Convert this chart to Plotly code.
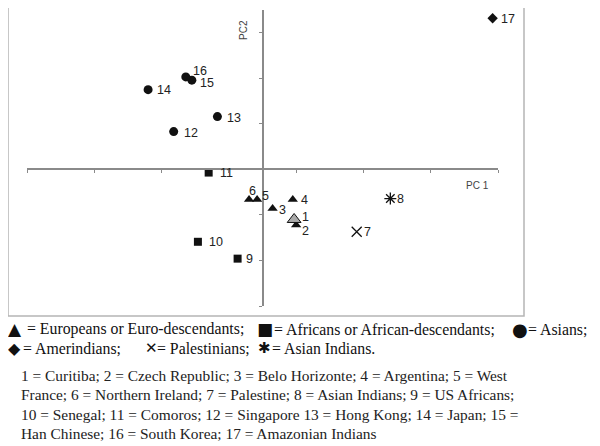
import plotly.graph_objects as go

# ---- data (PC scores in chart units) ----
labels = ["1", "2", "3", "4", "5", "6", "7", "8", "9", "10", "11", "12", "13", "14", "15", "16", "17"]
pc1 = [0.47, 0.50, 0.15, 0.45, -0.08, -0.20, 1.40, 1.90, -0.37, -0.96, -0.80, -1.32, -0.67, -1.70, -1.05, -1.14, 3.42]
pc2 = [-1.10, -1.22, -0.86, -0.66, -0.66, -0.66, -1.37, -0.64, -1.96, -1.59, -0.07, 0.83, 1.16, 1.75, 1.96, 2.03, 3.32]
groups = ["Curitiba", "Euro", "Euro", "Euro", "Euro", "Euro", "Palestinians", "AsianIndians",
          "Africans", "Africans", "Africans", "Asians", "Asians", "Asians", "Asians", "Asians", "Amerindians"]

legend_line1 = [("▲", 8, 17), ("= Europeans or Euro-descendants;", 27, None),
                ("■", 257, 17), ("= Africans or African-descendants;", 274, None),
                ("●", 512, 18), ("= Asians;", 528, None)]
legend_line2 = [("◆", 8, 16), ("= Amerindians;", 23, None),
                ("✕", 145, 15), ("= Palestinians;", 157, None),
                ("✱", 258, 15), ("= Asian Indians.", 272, None)]
caption_lines = [
    "1 = Curitiba; 2 = Czech Republic; 3 = Belo Horizonte; 4 = Argentina; 5 = West",
    "France; 6 = Northern Ireland; 7 = Palestine; 8 = Asian Indians; 9 = US Africans;",
    "10 = Senegal; 11 = Comoros; 12 = Singapore 13 = Hong Kong; 14 = Japan; 15 =",
    "Han Chinese; 16 = South Korea; 17 = Amazonian Indians",
]

# ---- styles ----
styles = {
    "Euro": dict(symbol="triangle-up", size=9, color="#111111", line=dict(width=0)),
    "Curitiba": dict(symbol="triangle-up", size=12, color="#aaaaaa", line=dict(width=1, color="#111111")),
    "Africans": dict(symbol="square", size=8, color="#111111", line=dict(width=0)),
    "Asians": dict(symbol="circle", size=9, color="#111111", line=dict(width=0)),
    "Amerindians": dict(symbol="diamond", size=8, color="#111111", line=dict(width=0)),
    "Palestinians": dict(symbol="x-thin-open", size=10, color="#111111", line=dict(width=1.3, color="#111111")),
    "AsianIndians": dict(symbol="asterisk-open", size=10, color="#111111", line=dict(width=1.3, color="#111111")),
}
# label offsets (px) from marker centre: (dx, dy downwards)
label_offsets = {"1": (8, -2), "2": (6, 6), "3": (6, 1.5), "4": (8, 1), "5": (5, -3), "6": (0, -8),
                 "7": (7, 0), "8": (7, 0), "9": (8, 0), "10": (11, 0), "11": (11, 0), "12": (10, 1),
                 "13": (10, 1), "14": (9, 0), "15": (8, 2.5), "16": (7.5, -5.5), "17": (8, 0.5)}

order = ["Euro", "Curitiba", "Africans", "Asians", "Amerindians", "Palestinians", "AsianIndians"]

fig = go.Figure()
for g in order:
    idx = [i for i, gg in enumerate(groups) if gg == g]
    fig.add_trace(go.Scatter(
        x=[pc1[i] for i in idx], y=[pc2[i] for i in idx],
        mode="markers", marker=styles[g],
        showlegend=False, cliponaxis=False, hoverinfo="skip",
    ))

for i, lab in enumerate(labels):
    dx, dy = label_offsets[lab]
    fig.add_annotation(x=pc1[i], y=pc2[i], xref="x", yref="y", text=lab, showarrow=False,
                       xanchor="left", yanchor="middle", xshift=dx - 2, yshift=-dy,
                       font=dict(family="Liberation Sans, Arial", size=12.5, color="#222222"))

# page has an 8px body margin: compensate so the figure sits at the page origin
W, H = 592, 438
fig.update_layout(
    width=W, height=H,
    margin=dict(l=27 - 8, r=W - (498 - 8), t=10 - 8, b=H - (306 - 8), autoexpand=False),
    paper_bgcolor="white", plot_bgcolor="white",
    xaxis=dict(range=[-3.5, 3.5], showgrid=False, zeroline=False, showline=True,
               linecolor="#8a8a8a", linewidth=1.5, anchor="free", position=3 / 6.5,
               ticks="outside", ticklen=3, tickwidth=1, tickcolor="#8a8a8a",
               tick0=-3.5, dtick=1, showticklabels=False),
    yaxis=dict(range=[-3, 3.5], showgrid=False, zeroline=False, showline=True,
               linecolor="#8a8a8a", linewidth=1.5, anchor="free", position=0.5,
               ticks="outside", ticklen=3, tickwidth=1, tickcolor="#8a8a8a",
               tick0=-3, dtick=1, showticklabels=False),
)

pw, ph = 471.0, 296.0


def px(xp):
    return (xp - 27) / pw


def py(yp):
    return (306 - yp) / ph


# outer frame
fig.add_shape(type="rect", xref="paper", yref="paper",
              x0=px(8), x1=px(524), y0=py(316), y1=py(5),
              line=dict(color="#b5b5b5", width=1.5), fillcolor="rgba(0,0,0,0)", layer="below")

# axis titles
fig.add_annotation(x=px(244), y=py(30), xref="paper", yref="paper",
                   xanchor="center", yanchor="middle",
                   text="PC2", textangle=-90, showarrow=False,
                   font=dict(family="Liberation Sans, Arial", size=10, color="#444444"))
fig.add_annotation(x=px(477), y=py(186), xref="paper", yref="paper",
                   xanchor="center", yanchor="middle",
                   text="PC 1", showarrow=False,
                   font=dict(family="Liberation Sans, Arial", size=10, color="#444444"))

# legend text
for items, ypx in [(legend_line1, 329), (legend_line2, 348)]:
    for txt, xpx, sym_size in items:
        if sym_size:
            font = dict(family="DejaVu Sans", size=sym_size, color="#111111")
        else:
            font = dict(family="Liberation Serif, Times New Roman", size=15.8, color="#111111")
        fig.add_annotation(x=px(xpx), y=py(ypx), xref="paper", yref="paper",
                           xanchor="left", yanchor="middle", text=txt, showarrow=False,
                           borderpad=0, borderwidth=0, font=font)

# caption
for k, line in enumerate(caption_lines):
    fig.add_annotation(x=px(21), y=py(375 + 19.5 * k), xref="paper", yref="paper",
                       xanchor="left", yanchor="middle", text=line, showarrow=False,
                       borderpad=0, borderwidth=0,
                       font=dict(family="Liberation Serif, Times New Roman", size=15.4, color="#222222"))

fig.write_html("out.html")
